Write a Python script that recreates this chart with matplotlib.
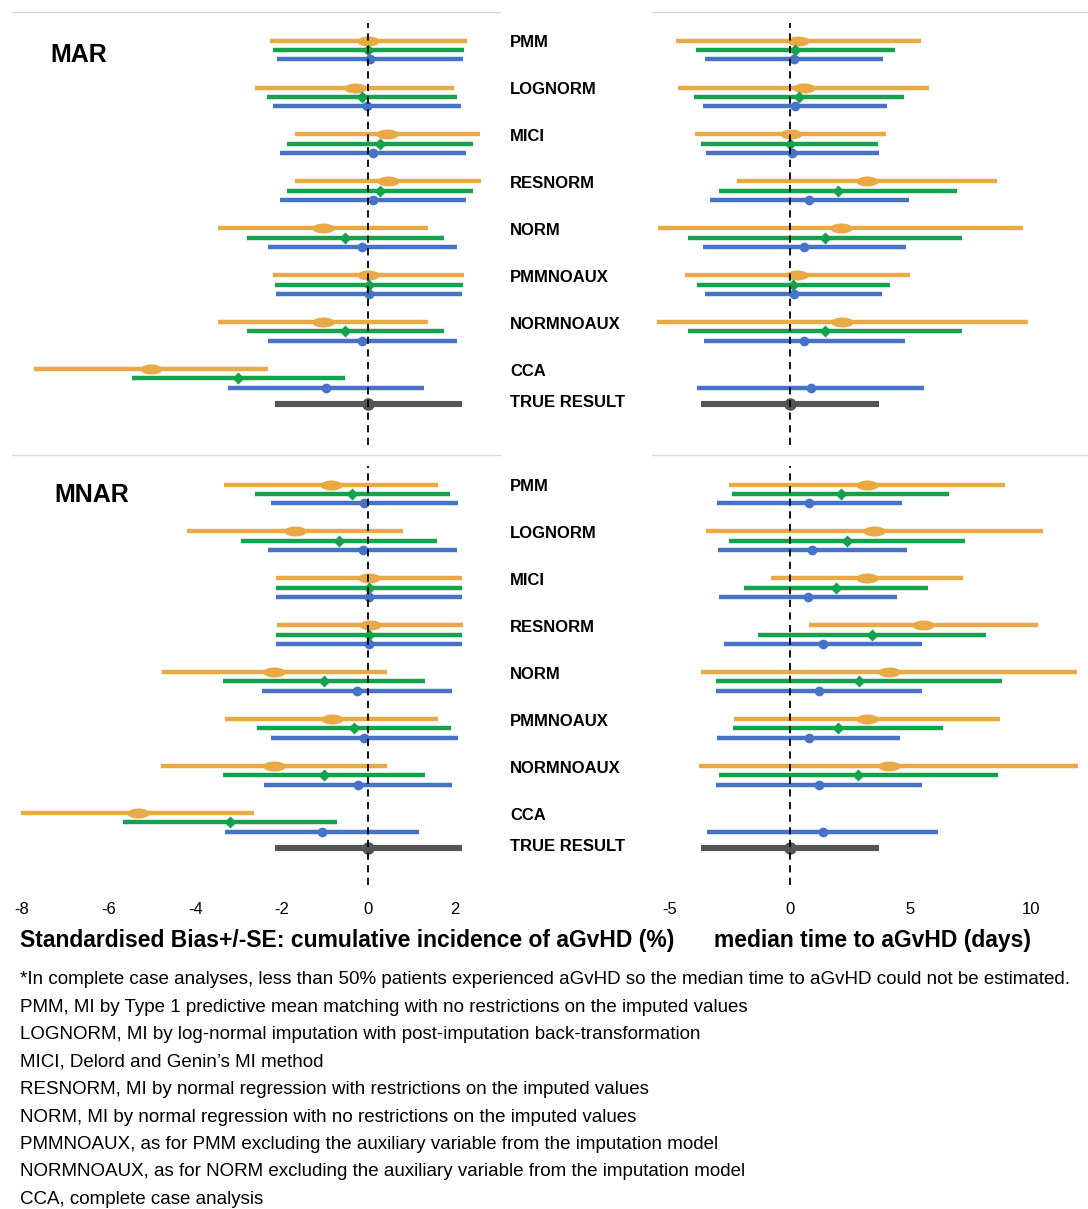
import numpy as np
import matplotlib
matplotlib.use('Agg')
import matplotlib.pyplot as plt
import matplotlib.transforms as mtransforms
from matplotlib.path import Path

methods = ['PMM', 'LOGNORM', 'MICI', 'RESNORM', 'NORM', 'PMMNOAUX', 'NORMNOAUX', 'CCA']
nan = np.nan

# MAR, cumulative incidence of aGvHD: standardised bias and SE
mar_ci_orange_est = [0.00, -0.32, 0.44, 0.45, -1.05, 0.00, -1.05, -5.02]
mar_ci_orange_se = [2.27, 2.30, 2.14, 2.14, 2.42, 2.20, 2.42, 2.70]
mar_ci_green_est = [0.00, -0.15, 0.27, 0.27, -0.53, 0.01, -0.53, -3.00]
mar_ci_green_se = [2.20, 2.20, 2.14, 2.14, 2.28, 2.17, 2.28, 2.47]
mar_ci_blue_est = [0.03, -0.03, 0.11, 0.11, -0.14, 0.02, -0.14, -0.98]
mar_ci_blue_se = [2.15, 2.18, 2.15, 2.15, 2.18, 2.15, 2.18, 2.27]

# MAR, median time to aGvHD
mar_mt_orange_est = [0.35, 0.56, 0.02, 3.20, 2.10, 0.30, 2.17, nan]
mar_mt_orange_se = [5.10, 5.22, 3.98, 5.40, 7.57, 4.67, 7.70, nan]
mar_mt_green_est = [0.22, 0.39, -0.02, 2.00, 1.45, 0.14, 1.45, nan]
mar_mt_green_se = [4.13, 4.36, 3.69, 4.93, 5.67, 3.99, 5.67, nan]
mar_mt_blue_est = [0.15, 0.22, 0.10, 0.80, 0.60, 0.15, 0.60, 0.86]
mar_mt_blue_se = [3.70, 3.82, 3.59, 4.13, 4.20, 3.68, 4.19, 4.71]

# MNAR, cumulative incidence of aGvHD
mnar_ci_orange_est = [-0.86, -1.69, 0.02, 0.04, -2.17, -0.85, -2.19, -5.33]
mnar_ci_orange_se = [2.47, 2.50, 2.15, 2.15, 2.59, 2.45, 2.61, 2.70]
mnar_ci_green_est = [-0.37, -0.67, 0.02, 0.02, -1.02, -0.33, -1.02, -3.20]
mnar_ci_green_se = [2.25, 2.26, 2.15, 2.15, 2.33, 2.24, 2.33, 2.47]
mnar_ci_blue_est = [-0.09, -0.13, 0.02, 0.02, -0.27, -0.09, -0.24, -1.07]
mnar_ci_blue_se = [2.16, 2.18, 2.15, 2.15, 2.19, 2.16, 2.17, 2.25]

# MNAR, median time to aGvHD
mnar_mt_orange_est = [3.20, 3.50, 3.20, 5.53, 4.12, 3.20, 4.10, nan]
mnar_mt_orange_se = [5.72, 7.00, 3.97, 4.75, 7.80, 5.52, 7.87, nan]
mnar_mt_green_est = [2.10, 2.38, 1.91, 3.40, 2.86, 2.00, 2.83, nan]
mnar_mt_green_se = [4.49, 4.90, 3.82, 4.73, 5.94, 4.36, 5.79, nan]
mnar_mt_blue_est = [0.80, 0.92, 0.75, 1.37, 1.20, 0.78, 1.20, 1.36]
mnar_mt_blue_se = [3.84, 3.92, 3.70, 4.11, 4.28, 3.80, 4.26, 4.79]

# true result (est, se) for cumulative incidence and median time
true_ci = (0.0, 2.16)
true_mt = (0.0, 3.70)

ci_ticks = [-8, -6, -4, -2, 0, 2]
mt_ticks = [-5, 0, 5, 10]

footnotes = [
    '*In complete case analyses, less than 50% patients experienced aGvHD so the median time to aGvHD could not be estimated.',
    'PMM, MI by Type 1 predictive mean matching with no restrictions on the imputed values',
    'LOGNORM, MI by log-normal imputation with post-imputation back-transformation',
    'MICI, Delord and Genin\u2019s MI method',
    'RESNORM, MI by normal regression with restrictions on the imputed values',
    'NORM, MI by normal regression with no restrictions on the imputed values',
    'PMMNOAUX, as for PMM excluding the auxiliary variable from the imputation model',
    'NORMNOAUX, as for NORM excluding the auxiliary variable from the imputation model',
    'CCA, complete case analysis',
]

ORANGE = '#E9AA45'
GREEN = '#14A34C'
BLUE = '#4673C6'
GRAY = '#555555'

# oval marker for the orange series
t = np.linspace(0, 2 * np.pi, 40)
oval = Path(np.column_stack([np.cos(t), 0.45 * np.sin(t)]))

plt.rcParams['font.family'] = ['Liberation Sans', 'DejaVu Sans']

W, H = 1088, 1209
fig = plt.figure(figsize=(W / 100, H / 100), dpi=100)


def px_axes(x0, y0, x1, y1):
    return fig.add_axes([x0 / W, 1 - y1 / H, (x1 - x0) / W, (y1 - y0) / H])


def draw_series(ax, est, se, yoff, color, marker, ms):
    y = np.arange(len(methods)) + yoff
    est = np.array(est)
    se = np.array(se)
    for yi, e, s in zip(y, est, se):
        if np.isnan(e):
            continue
        ax.plot([e - s, e + s], [yi, yi], color=color, lw=3.2, solid_capstyle='butt', zorder=2)
        ax.plot(e, yi, marker=marker, color=color, ms=ms, mec='none', zorder=3)


def draw_panel(ax, orange, green, blue, true, xlim, ylim, ticks, show_ticks):
    draw_series(ax, orange[0], orange[1], -0.2, ORANGE, oval, 16)
    draw_series(ax, green[0], green[1], 0.0, GREEN, 'D', 6.5)
    draw_series(ax, blue[0], blue[1], 0.2, BLUE, 'o', 7)
    ty = len(methods) - 1 + 0.55
    ax.plot([true[0] - true[1], true[0] + true[1]], [ty, ty], color=GRAY, lw=4.4,
            solid_capstyle='butt', zorder=2)
    ax.plot(true[0], ty, marker='o', color=GRAY, ms=8, zorder=3)
    ax.axvline(0, ymin=0.0, ymax=0.975, color='black', lw=1.3, ls=(0, (4, 3)), zorder=4)
    ax.set_xlim(*xlim)
    ax.set_ylim(*ylim)
    for s in ['left', 'right', 'bottom']:
        ax.spines[s].set_visible(False)
    ax.spines['top'].set_color('#d9d9d9')
    ax.spines['top'].set_linewidth(1)
    ax.set_yticks([])
    if show_ticks:
        ax.set_xticks(ticks)
        ax.set_xticklabels([str(v) for v in ticks], fontsize=12)
        ax.tick_params(axis='x', length=0, pad=12)
    else:
        ax.set_xticks([])


ci_xlim = (-8.23, 3.04)
mt_xlim = (-5.73, 12.37)

ax1 = px_axes(12, 12, 500, 445)
ax2 = px_axes(652, 12, 1088, 445)
ax3 = px_axes(12, 455, 500, 885)
ax4 = px_axes(652, 455, 1088, 885)

draw_panel(ax1, (mar_ci_orange_est, mar_ci_orange_se), (mar_ci_green_est, mar_ci_green_se),
           (mar_ci_blue_est, mar_ci_blue_se), true_ci, ci_xlim, (8.42, -0.81), ci_ticks, False)
draw_panel(ax2, (mar_mt_orange_est, mar_mt_orange_se), (mar_mt_green_est, mar_mt_green_se),
           (mar_mt_blue_est, mar_mt_blue_se), true_mt, mt_xlim, (8.42, -0.81), mt_ticks, False)
draw_panel(ax3, (mnar_ci_orange_est, mnar_ci_orange_se), (mnar_ci_green_est, mnar_ci_green_se),
           (mnar_ci_blue_est, mnar_ci_blue_se), true_ci, ci_xlim, (8.34, -0.83), ci_ticks, True)
draw_panel(ax4, (mnar_mt_orange_est, mnar_mt_orange_se), (mnar_mt_green_est, mnar_mt_green_se),
           (mnar_mt_blue_est, mnar_mt_blue_se), true_mt, mt_xlim, (8.34, -0.83), mt_ticks, True)

# method labels between the panels
for ax in [ax1, ax3]:
    tr = mtransforms.blended_transform_factory(fig.transFigure, ax.transData)
    for i, m in enumerate(methods):
        fig.text(510 / W, i - 0.15, m, transform=tr, fontsize=12, fontweight='bold',
                 va='center', ha='left')
    fig.text(510 / W, len(methods) - 1 + 0.52, 'TRUE RESULT', transform=tr, fontsize=12,
             fontweight='bold', va='center', ha='left')

fig.text(50 / W, 1 - 55 / H, 'MAR', fontsize=18, fontweight='bold', va='center')
fig.text(54 / W, 1 - 495 / H, 'MNAR', fontsize=18, fontweight='bold', va='center')

fig.text(20 / W, 1 - 940 / H, 'Standardised Bias+/-SE: cumulative incidence of aGvHD (%)',
         fontsize=16.5, fontweight='bold', va='center')
fig.text(714 / W, 1 - 940 / H, 'median time to aGvHD (days)',
         fontsize=16.5, fontweight='bold', va='center')

for k, line in enumerate(footnotes):
    fig.text(20 / W, 1 - (980 + 27.4 * k) / H, line, fontsize=13.5, va='center')

fig.savefig('out.png', dpi=100, facecolor='white')
